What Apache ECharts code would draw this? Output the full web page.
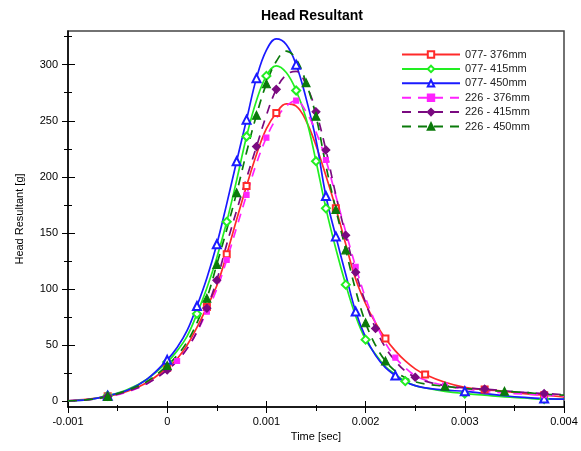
<!DOCTYPE html>
<html>
<head>
<meta charset="utf-8">
<script src="https://cdn.jsdelivr.net/npm/echarts@6/dist/echarts.min.js"></script>
<style>
html, body { margin: 0; padding: 0; background: #fff; }
#chart { width: 581px; height: 451px; }
</style>
</head>
<body>
<div id="chart"></div>
<script>
// sample times in ms (axis itself is in seconds)
var timeMs = [-1.0, -0.8, -0.6, -0.4, -0.2, 0, 0.1, 0.2, 0.3, 0.4, 0.5, 0.6, 0.7, 0.8, 0.9,
  1.0, 1.1, 1.2, 1.3, 1.4, 1.5, 1.6, 1.7, 1.8, 1.9, 2.0, 2.1, 2.2, 2.3, 2.4, 2.5, 2.6,
  2.8, 3.0, 3.2, 3.4, 3.6, 3.8, 4.0];

var names = ['077- 376mm', '077- 415mm', '077- 450mm', '226 - 376mm', '226 - 415mm', '226 - 450mm'];

var s077_376 = [0.5, 2, 4.5, 9, 17, 30, 38, 50, 66, 84, 103, 131, 162, 192, 220,
  243, 257, 265, 263, 250, 228, 201, 172, 140, 109, 87, 70, 56, 45, 36, 29, 24,
  17, 12.5, 10.5, 9, 7, 5.5, 4];
var s077_415 = [0.5, 1.5, 5, 10.5, 20, 35, 45, 58, 78, 101, 128, 160, 197, 236, 268,
  290, 299, 293, 277, 252, 214, 172, 136, 104, 76, 55, 42, 31, 24, 18, 14, 12,
  9, 7, 5.5, 4, 3, 2, 2];
var s077_450 = [0.5, 1.5, 5, 10, 20, 37, 48, 63, 85, 110, 140, 176, 214, 251, 288,
  313, 323, 318, 300, 270, 233, 183, 147, 113, 80, 57, 41, 30, 23, 17.5, 14, 12,
  10, 9, 7, 5, 3.5, 2.5, 2];
var s226_376 = [0.5, 1.5, 4, 8.5, 16, 28, 36, 47, 62, 80, 100, 126, 155, 184, 212,
  235, 252, 263, 268, 258, 240, 215, 183, 151, 120, 92, 70, 52, 39, 30, 23, 19,
  14, 11, 9, 7.5, 6.5, 5.5, 5];
var s226_415 = [0.5, 1.5, 4.5, 9, 16, 28, 36, 47, 62, 83, 108, 140, 170, 199, 227,
  255, 278, 291, 294, 282, 258, 224, 184, 148, 115, 88, 65, 48, 36, 27, 21.5, 18,
  14, 12, 11, 9.5, 8, 7, 6];
var s226_450 = [0.5, 1.5, 4.5, 10, 18, 32, 41, 53, 70, 92, 122, 153, 186, 222, 255,
  283, 303, 312, 305, 284, 254, 210, 171, 135, 99, 70, 50, 36, 27, 21, 17.5, 15.5,
  13.5, 11.5, 10, 9, 8, 6.5, 5.5];

// times (ms) where each curve carries a marker
var marks077_376 = [-0.6, 0, 0.4, 0.6, 0.8, 1.1, 1.7, 2.2, 2.6, 3.2, 3.8];
var marks077_415 = [-0.6, 0, 0.3, 0.6, 0.8, 1.0, 1.3, 1.5, 1.6, 1.8, 2.0, 2.4, 3.0, 3.8];
var marks077_450 = [-0.6, 0, 0.3, 0.5, 0.7, 0.8, 0.9, 1.3, 1.6, 1.7, 1.9, 2.3, 3.0, 3.8];
var marks226_376 = [-0.6, 0.1, 0.4, 0.6, 0.8, 1.0, 1.3, 1.6, 1.9, 2.3, 2.8, 3.8];
var marks226_415 = [-0.6, 0, 0.4, 0.5, 0.9, 1.1, 1.5, 1.6, 1.8, 1.9, 2.1, 2.5, 3.2, 3.8];
var marks226_450 = [-0.6, 0, 0.4, 0.5, 0.7, 0.9, 1.0, 1.4, 1.5, 1.7, 1.8, 2.0, 2.2, 2.8, 3.4];

var yMajor = [0, 50, 100, 150, 200, 250, 300];
var yMinor = [25, 75, 125, 175, 225, 275, 325];

function buildData(values, marks) {
  return timeMs.map(function (t, i) {
    var item = { value: [t / 1000, values[i]] };
    if (marks.indexOf(t) < 0) item.symbol = 'none';
    return item;
  });
}

function makeSeries(name, values, marks, color, symbol, size, dashed) {
  return {
    name: name,
    type: 'line',
    smooth: 0.4,
    data: buildData(values, marks),
    symbol: symbol,
    symbolSize: size,
    showSymbol: true,
    color: color,
    itemStyle: { color: color, borderColor: color, borderWidth: 1.1 },
    lineStyle: { color: color, width: 1.7, type: dashed ? [9, 7] : 'solid' },
    emphasis: { disabled: true }
  };
}

var chart = echarts.init(document.getElementById('chart'));

var axisColor = '#000';
var labelStyle = { color: '#000', fontSize: 11 };

// extra axes only carry the inward / minor tick marks
function tickAxis(inside, len, values) {
  return {
    type: 'value',
    min: -5,
    max: 330,
    position: 'left',
    axisLine: { show: false, onZero: false },
    axisTick: { show: true, inside: inside, length: len, customValues: values, lineStyle: { color: axisColor } },
    axisLabel: { show: false },
    splitLine: { show: false }
  };
}

var option = {
  animation: false,
  textStyle: { fontFamily: 'Liberation Sans, Arial, sans-serif' },
  title: {
    text: 'Head Resultant',
    left: 261,
    top: 9,
    padding: 0,
    textStyle: { fontSize: 14, fontWeight: 'bold', color: '#000' }
  },
  legend: {
    data: names,
    orient: 'vertical',
    left: 401,
    top: 49,
    padding: 0,
    itemWidth: 58,
    itemHeight: 8,
    itemGap: 3.4,
    textStyle: { fontSize: 11, color: '#222' }
  },
  grid: {
    left: 68,
    right: 17,
    top: 31,
    bottom: 44,
    show: true,
    borderColor: '#444',
    borderWidth: 1.5
  },
  xAxis: [{
    type: 'value',
    min: -0.001,
    max: 0.004,
    interval: 0.001,
    position: 'bottom',
    axisLine: { onZero: false, lineStyle: { color: axisColor, width: 1.5 } },
    axisTick: { length: 6, lineStyle: { color: axisColor } },
    minorTick: { show: true, splitNumber: 2, length: 4, lineStyle: { color: axisColor } },
    splitLine: { show: false },
    axisLabel: Object.assign({ margin: 9 }, labelStyle),
    name: 'Time [sec]',
    nameLocation: 'middle',
    nameGap: 24,
    nameTextStyle: labelStyle
  }, {
    type: 'value',
    min: -0.001,
    max: 0.004,
    interval: 0.001,
    position: 'bottom',
    axisLine: { show: false, onZero: false },
    axisTick: { inside: true, length: 6, lineStyle: { color: axisColor } },
    minorTick: { show: true, splitNumber: 2, length: 2, lineStyle: { color: axisColor } },
    splitLine: { show: false },
    axisLabel: { show: false }
  }],
  yAxis: [{
    type: 'value',
    min: -5,
    max: 330,
    position: 'left',
    axisLine: { show: true, onZero: false, lineStyle: { color: axisColor, width: 1.5 } },
    axisTick: { show: true, length: 6, customValues: yMajor, lineStyle: { color: axisColor } },
    axisLabel: Object.assign({ margin: 10, customValues: yMajor }, labelStyle),
    splitLine: { show: false },
    name: 'Head Resultant [g]',
    nameLocation: 'middle',
    nameGap: 43,
    nameTextStyle: labelStyle
  },
  tickAxis(true, 7, yMajor),
  tickAxis(false, 4, yMinor),
  tickAxis(true, 4, yMinor)],
  series: [
    makeSeries(names[0], s077_376, marks077_376, '#ff2a2a', 'emptyRect', 6, false),
    makeSeries(names[1], s077_415, marks077_415, '#22ee22', 'emptyDiamond', 8, false),
    makeSeries(names[2], s077_450, marks077_450, '#1a1aff', 'emptyTriangle', 8, false),
    makeSeries(names[3], s226_376, marks226_376, '#ff22ff', 'rect', 5, true),
    makeSeries(names[4], s226_415, marks226_415, '#7a0a80', 'diamond', 8, true),
    makeSeries(names[5], s226_450, marks226_450, '#0a7a0a', 'triangle', 8, true)
  ]
};

chart.setOption(option);
</script>
</body>
</html>
